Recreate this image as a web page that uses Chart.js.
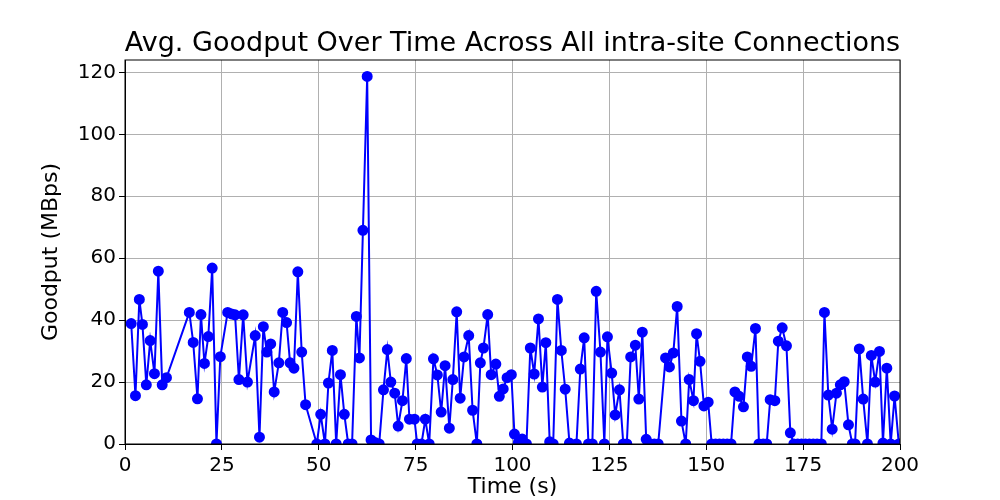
<!DOCTYPE html>
<html>
<head>
<script src="https://cdn.jsdelivr.net/npm/chart.js@4"></script>
<style>body{margin:0;background:#fff}#wrap{width:1000px;height:500px}</style>
</head>
<body>
<div id="wrap"><canvas id="goodputChart"></canvas></div>
<script>
const titleText = 'Avg. Goodput Over Time Across All intra-site Connections';
const timeData = [1.6,2.7,3.7,4.5,5.5,6.5,7.6,8.6,9.6,10.7,16.6,17.6,18.7,19.6,20.5,21.5,22.5,23.6,24.6,26.5,27.5,28.4,29.4,30.5,31.6,33.6,34.7,35.7,36.6,37.6,38.5,39.7,40.7,41.7,42.6,43.6,44.6,45.6,46.6,49.5,50.5,51.6,52.5,53.5,54.5,55.6,56.6,57.6,58.6,59.7,60.5,61.4,62.5,63.5,64.5,65.6,66.7,67.7,68.6,69.6,70.5,71.6,72.6,73.4,74.7,75.4,76.5,77.5,78.5,79.6,80.6,81.6,82.6,83.7,84.6,85.6,86.5,87.5,88.7,89.7,90.8,91.7,92.5,93.6,94.5,95.7,96.6,97.6,98.6,99.7,100.5,101.5,102.5,103.6,104.6,105.6,106.7,107.7,108.6,109.6,110.5,111.6,112.6,113.6,114.7,116.5,117.5,118.5,119.6,120.6,121.6,122.7,123.7,124.5,125.6,126.5,127.6,128.6,129.5,130.5,131.7,132.6,133.5,134.5,135.6,136.6,137.6,139.5,140.5,141.5,142.5,143.6,144.7,145.6,146.7,147.5,148.4,149.4,150.5,151.4,152.4,153.4,154.4,155.4,156.4,157.4,158.5,159.6,160.6,161.6,162.7,163.6,164.7,165.6,166.5,167.7,168.6,169.6,170.7,171.7,172.6,173.6,174.6,175.6,176.6,177.6,178.6,179.7,180.5,181.5,182.5,183.6,184.6,185.6,186.7,187.7,188.4,189.5,190.5,191.6,192.6,193.6,194.7,195.6,196.6,197.6,198.6,199.7];
const goodputData = [38.9,15.6,46.7,38.6,19.1,33.4,22.7,55.8,19.1,21.4,42.5,32.8,14.6,41.8,26,34.7,56.8,0,28.2,42.5,42,41.7,20.8,41.7,20,35,2.2,37.9,29.7,32.3,16.8,26.2,42.5,39.2,26.2,24.5,55.6,29.7,12.7,0,9.6,0,19.7,30.2,0,22.4,9.6,0,0,41.2,27.8,69,118.7,1.3,0.5,0,17.5,30.5,20,16.4,5.8,14,27.6,8,8,0,0,8,0,27.5,22.3,10.3,25.3,5.1,20.8,42.7,14.8,28.1,35,10.9,0,26.2,31,41.8,22.4,25.8,15.4,17.8,21.4,22.4,3.2,0.4,1.6,0,31,22.6,40.4,18.4,32.7,0.7,0,46.7,30.2,17.7,0.3,0,24.2,34.3,0,0,49.3,29.7,0,34.6,22.9,9.4,17.5,0,0,28.1,31.9,14.5,36.1,1.5,0,0,0,27.8,24.9,29.4,44.4,7.4,0,20.8,14,35.6,26.7,12.3,13.5,0,0,0,0,0,0,16.8,15.4,12,28.1,25.1,37.3,0,0,0,14.3,14,33.2,37.5,31.7,3.6,0,0,0,0,0,0,0,0,42.5,15.8,4.8,16.4,19.1,20.1,6.2,0,0,30.7,14.5,0,28.6,20,29.9,0.3,24.5,0,15.5,0];

const points = timeData.map((t, i) => ({ x: t, y: goodputData[i] }));
const font = 'DejaVu Sans';

// frame around plot area + title centred over it (matplotlib style)
const frameAndTitle = {
    id: 'frameAndTitle',
    afterDraw(chart) {
        const { ctx, chartArea: a } = chart;
        ctx.save();
        ctx.strokeStyle = '#000';
        ctx.lineWidth = 1;
        ctx.strokeRect(a.left, a.top, a.right - a.left, a.bottom - a.top);
        ctx.fillStyle = '#000';
        ctx.font = '27px "DejaVu Sans"';
        ctx.textAlign = 'center';
        ctx.textBaseline = 'alphabetic';
        ctx.fillText(titleText, (a.left + a.right) / 2, a.top - 9);
        ctx.restore();
    }
};

new Chart(document.getElementById('goodputChart').getContext('2d'), {
    type: 'scatter',
    data: {
        datasets: [{
            data: points,
            showLine: true,
            borderColor: '#0000ff',
            backgroundColor: '#0000ff',
            borderWidth: 2,
            pointRadius: 4.5,
            pointHoverRadius: 4.5
        }]
    },
    options: {
        responsive: true,
        maintainAspectRatio: false,
        animation: false,
        layout: { padding: { left: 38, right: 100, top: 60, bottom: 0 } },
        plugins: {
            legend: { display: false },
            tooltip: { enabled: false },
            title: { display: false }
        },
        scales: {
            x: {
                type: 'linear', min: 0, max: 200,
                afterFit(axis) { axis.height = 56; },
                ticks: { stepSize: 25, color: '#000', padding: 4, font: { family: font, size: 20 } },
                grid: { color: '#b0b0b0', tickColor: '#000', tickLength: 6 },
                border: { color: '#000' },
                title: { display: true, text: 'Time (s)', color: '#000', font: { family: font, size: 22 }, padding: { top: 2, bottom: 0 } }
            },
            y: {
                min: 0, max: 124,
                afterFit(axis) { axis.width = 87; },
                afterBuildTicks(axis) { axis.ticks = [0,20,40,60,80,100,120].map(v => ({ value: v })); },
                ticks: { color: '#000', font: { family: font, size: 20 } },
                grid: { color: '#b0b0b0', tickColor: '#000', tickLength: 6 },
                border: { color: '#000' },
                title: { display: true, text: 'Goodput (MBps)', color: '#000', font: { family: font, size: 22 }, padding: 0 }
            }
        }
    },
    plugins: [frameAndTitle]
});
</script>
</body>
</html>
